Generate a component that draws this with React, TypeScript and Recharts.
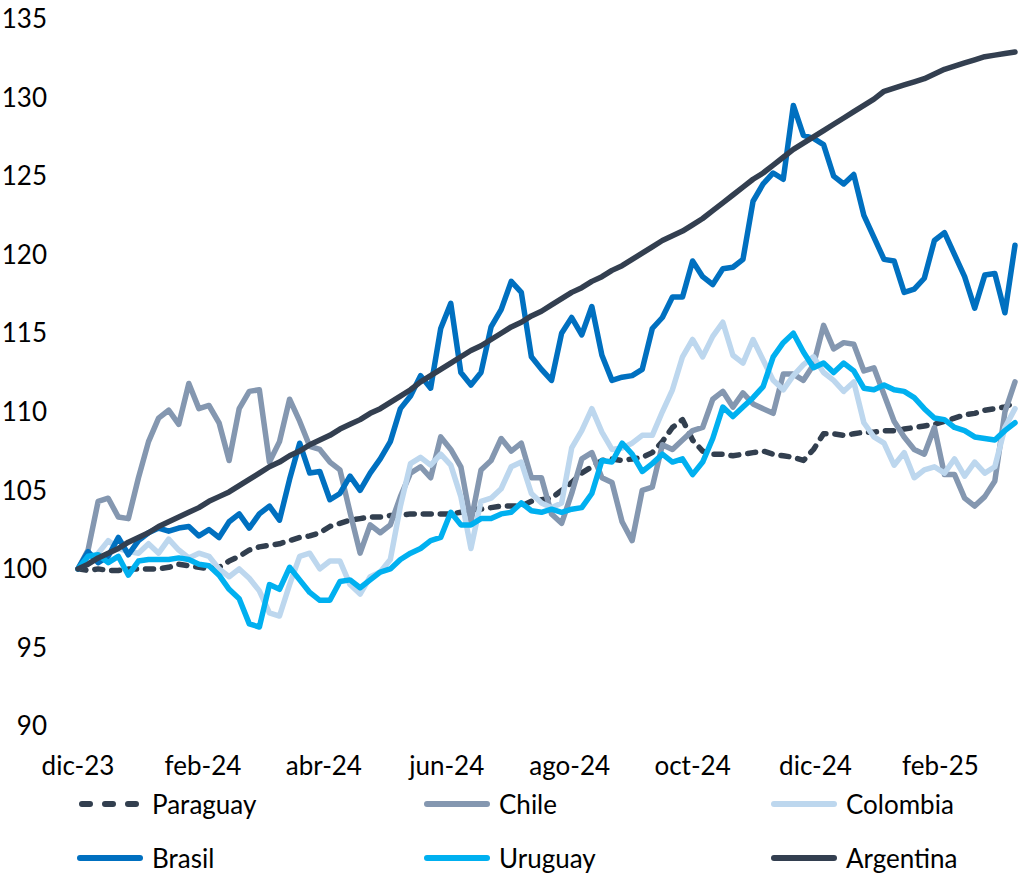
import React from 'react';
import { LineChart, Line, XAxis, YAxis } from 'recharts';

// one observation every 5 days, starting 1 Dec 2023
const STEP_DAYS = 5;

const monthTicks = [0, 62, 122, 183, 244, 305, 366, 428];
const monthLabels = ['dic-23', 'feb-24', 'abr-24', 'jun-24', 'ago-24', 'oct-24', 'dic-24', 'feb-25'];
const yTicks = [90, 95, 100, 105, 110, 115, 120, 125, 130, 135];

const paraguay = [
  100.0, 99.9, 100.0, 99.9, 99.9, 100.0, 100.0, 100.0, 100.0, 100.1,
  100.3, 100.2, 100.1, 100.0, 100.1, 100.5, 100.8, 101.2, 101.4, 101.5,
  101.6, 101.8, 102.0, 102.1, 102.3, 102.7, 102.9, 103.1, 103.2, 103.3,
  103.3, 103.4, 103.4, 103.5, 103.5, 103.5, 103.5, 103.5, 103.6, 103.8,
  103.8, 103.9, 104.0, 104.0, 104.0, 104.3, 104.4, 104.5, 105.0, 105.5,
  106.1, 106.5, 106.9, 107.0, 106.9, 107.0, 107.1, 107.4, 108.1, 109.0,
  109.5, 108.2, 107.5, 107.3, 107.3, 107.2, 107.3, 107.4, 107.5, 107.3,
  107.2, 107.1, 106.9, 107.6, 108.6, 108.6, 108.5, 108.6, 108.7, 108.7,
  108.8, 108.8, 108.9, 109.0, 109.1, 109.2, 109.4, 109.6, 109.8, 109.9,
  110.1, 110.2, 110.3, 110.6,
];

const chile = [
  100.0, 101.2, 104.3, 104.5, 103.3, 103.2, 105.8, 108.1, 109.6, 110.1,
  109.2, 111.8, 110.2, 110.4, 109.3, 106.9, 110.2, 111.3, 111.4, 106.8,
  108.1, 110.8, 109.4, 107.8, 107.6, 106.8, 106.3, 103.6, 101.0, 102.8,
  102.3, 102.8, 104.6, 106.1, 106.5, 105.8, 108.4, 107.6, 106.5, 103.0,
  106.3, 106.9, 108.3, 107.5, 108.0, 105.8, 105.8, 103.5, 102.9, 104.8,
  107.0, 107.4, 105.8, 105.5, 103.0, 101.8, 105.0, 105.2, 107.9, 107.6,
  108.2, 108.8, 109.0, 110.8, 111.3, 110.3, 111.2, 110.5, 110.2, 109.9,
  112.4, 112.4, 112.0, 113.0, 115.5, 114.0, 114.4, 114.3, 112.6, 112.8,
  111.1, 109.4, 108.4, 107.6, 107.3, 109.0, 106.0, 106.0, 104.5, 104.0,
  104.6, 105.6, 110.0, 111.9,
];

const colombia = [
  100.0, 100.4, 101.0, 101.8, 101.3, 101.1, 101.0, 101.6, 101.0, 101.9,
  101.2, 100.7, 101.0, 100.8, 100.0, 99.5, 100.0, 99.4, 98.6, 97.2,
  97.0, 99.0, 100.8, 101.0, 100.0, 100.5, 100.5, 99.0, 98.4, 99.5,
  99.8, 100.6, 104.0, 106.7, 107.1, 106.6, 107.3, 106.6, 104.6, 101.3,
  104.3, 104.5, 105.1, 106.5, 106.8, 104.8, 104.2, 103.9, 104.2, 107.7,
  108.8, 110.2, 108.7, 107.6, 107.7, 108.0, 108.5, 108.5, 110.0, 111.4,
  113.5, 114.6, 113.5, 114.8, 115.7, 113.6, 113.1, 114.6, 113.3, 112.0,
  111.4, 112.3, 113.0, 113.5, 112.5, 112.0, 111.3, 111.9, 109.3, 108.4,
  108.0, 106.6, 107.4, 105.8, 106.3, 106.5, 106.1, 107.0, 105.9, 106.8,
  106.1, 106.5, 109.0, 110.2,
];

const brasil = [
  100.0, 101.1, 100.4, 100.8, 102.0, 100.9, 101.8, 102.3, 102.6, 102.4,
  102.6, 102.7, 102.1, 102.5, 102.0, 103.0, 103.5, 102.6, 103.5, 104.0,
  103.1, 105.7, 108.0, 106.1, 106.2, 104.4, 104.8, 105.9, 105.0, 106.1,
  107.0, 108.1, 110.2, 111.0, 112.3, 111.5, 115.3, 116.9, 112.5, 111.7,
  112.5, 115.4, 116.5, 118.3, 117.6, 113.5, 112.7, 112.0, 115.0, 116.0,
  114.9, 116.7, 113.6, 112.0, 112.2, 112.3, 112.7, 115.3, 116.0, 117.3,
  117.3, 119.6, 118.6, 118.1, 119.1, 119.2, 119.7, 123.4, 124.5, 125.2,
  124.8, 129.5, 127.6, 127.4, 127.0, 125.0, 124.5, 125.1, 122.5, 121.1,
  119.7, 119.6, 117.6, 117.8, 118.5, 120.9, 121.4, 120.0, 118.6, 116.6,
  118.7, 118.8, 116.3, 120.6,
];

const uruguay = [
  100.0, 100.8, 100.9, 100.4, 100.8, 99.6, 100.5, 100.6, 100.6, 100.6,
  100.7, 100.6, 100.3, 100.2, 99.6, 98.7, 98.1, 96.5, 96.3, 99.0,
  98.7, 100.1, 99.3, 98.5, 98.0, 98.0, 99.2, 99.3, 98.8, 99.3,
  99.8, 100.0, 100.6, 101.0, 101.3, 101.8, 102.0, 103.6, 102.8, 102.8,
  103.2, 103.2, 103.5, 103.6, 104.2, 103.7, 103.6, 103.8, 103.6, 103.8,
  103.9, 104.8, 106.9, 106.8, 108.0, 107.3, 106.2, 106.7, 107.3, 106.8,
  107.0, 106.0, 106.8, 108.3, 110.3, 109.7, 110.3, 110.9, 111.6, 113.5,
  114.4, 115.0, 113.8, 112.8, 113.1, 112.5, 113.1, 112.6, 111.5, 111.4,
  111.7, 111.4, 111.3, 110.9, 110.2, 109.6, 109.5, 109.0, 108.8, 108.4,
  108.3, 108.2, 108.8, 109.3,
];

const argentina = [
  100.0, 100.3, 100.7, 101.0, 101.3, 101.7, 102.0, 102.3, 102.7, 103.0,
  103.3, 103.6, 103.9, 104.3, 104.6, 104.9, 105.3, 105.7, 106.1, 106.5,
  106.8, 107.2, 107.5, 107.9, 108.2, 108.5, 108.9, 109.2, 109.5, 109.9,
  110.2, 110.6, 111.0, 111.4, 111.9, 112.3, 112.7, 113.1, 113.5, 113.9,
  114.2, 114.6, 115.0, 115.4, 115.7, 116.1, 116.4, 116.8, 117.2, 117.6,
  117.9, 118.3, 118.6, 119.0, 119.3, 119.7, 120.1, 120.5, 120.9, 121.2,
  121.5, 121.9, 122.3, 122.8, 123.3, 123.8, 124.3, 124.8, 125.2, 125.7,
  126.2, 126.7, 127.1, 127.5, 127.9, 128.3, 128.7, 129.1, 129.5, 129.9,
  130.4, 130.6, 130.8, 131.0, 131.2, 131.5, 131.8, 132.0, 132.2, 132.4,
  132.6, 132.7, 132.8, 132.9,
];

const data = paraguay.map((_, i) => ({
  day: i * STEP_DAYS,
  Paraguay: paraguay[i],
  Chile: chile[i],
  Colombia: colombia[i],
  Brasil: brasil[i],
  Uruguay: uruguay[i],
  Argentina: argentina[i],
}));

const SERIES = [
  { key: 'Paraguay', color: '#323F4F', dash: '8 9' },
  { key: 'Chile', color: '#8497B0' },
  { key: 'Colombia', color: '#BDD7EE' },
  { key: 'Brasil', color: '#0070C0' },
  { key: 'Uruguay', color: '#00B0F0' },
  { key: 'Argentina', color: '#333F50' },
];

const FONT = 'Lato, "Open Sans", sans-serif';

const LegendItem: React.FC<{ name: string; color: string; dash?: string; left: number; top: number }> = ({ name, color, dash, left, top }) => (
  <div style={{ position: 'absolute', left, top, display: 'flex', alignItems: 'center', height: 30 }}>
    <svg width={66} height={12}>
      {dash ? (
        <line x1={5} y1={6} x2={59} y2={6} stroke={color} strokeWidth={6} strokeLinecap="round" strokeDasharray="8 15" />
      ) : (
        <line x1={3} y1={6} x2={63} y2={6} stroke={color} strokeWidth={6} strokeLinecap="round" />
      )}
    </svg>
    <span style={{ marginLeft: 9, fontFamily: FONT, fontSize: 26, color: '#000', lineHeight: '30px' }}>{name}</span>
  </div>
);

const legendCols = [77, 424, 771];
const legendRows = [789, 843];

export default function App() {
  return (
    <div style={{ position: 'absolute', left: 0, top: 0, width: 1018, height: 879, background: '#fff' }}>
      <LineChart width={1018} height={790} data={data} margin={{ top: 19, right: 3, bottom: 14, left: 0 }}>
        <XAxis
          dataKey="day"
          type="number"
          domain={[0, 465]}
          ticks={monthTicks}
          tickFormatter={(v: number) => monthLabels[monthTicks.indexOf(v)] ?? ''}
          axisLine={false}
          tickLine={false}
          tickSize={0}
          tickMargin={31}
          height={50}
          interval={0}
          tick={{ fill: '#000', fontSize: 26, fontFamily: FONT }}
        />
        <YAxis
          domain={[90, 135]}
          ticks={yTicks}
          axisLine={false}
          tickLine={false}
          tickSize={0}
          tickMargin={31}
          width={78}
          interval={0}
          tick={{ fill: '#000', fontSize: 26, fontFamily: FONT }}
        />
        {SERIES.map(s => (
          <Line
            key={s.key}
            type="linear"
            dataKey={s.key}
            stroke={s.color}
            strokeWidth={5.5}
            strokeDasharray={s.dash}
            strokeLinecap="round"
            strokeLinejoin="round"
            dot={false}
            activeDot={false}
            isAnimationActive={false}
          />
        ))}
      </LineChart>
      {SERIES.map((s, i) => (
        <LegendItem
          key={s.key}
          name={s.key}
          color={s.color}
          dash={s.dash}
          left={legendCols[i % 3]}
          top={legendRows[Math.floor(i / 3)]}
        />
      ))}
    </div>
  );
}
